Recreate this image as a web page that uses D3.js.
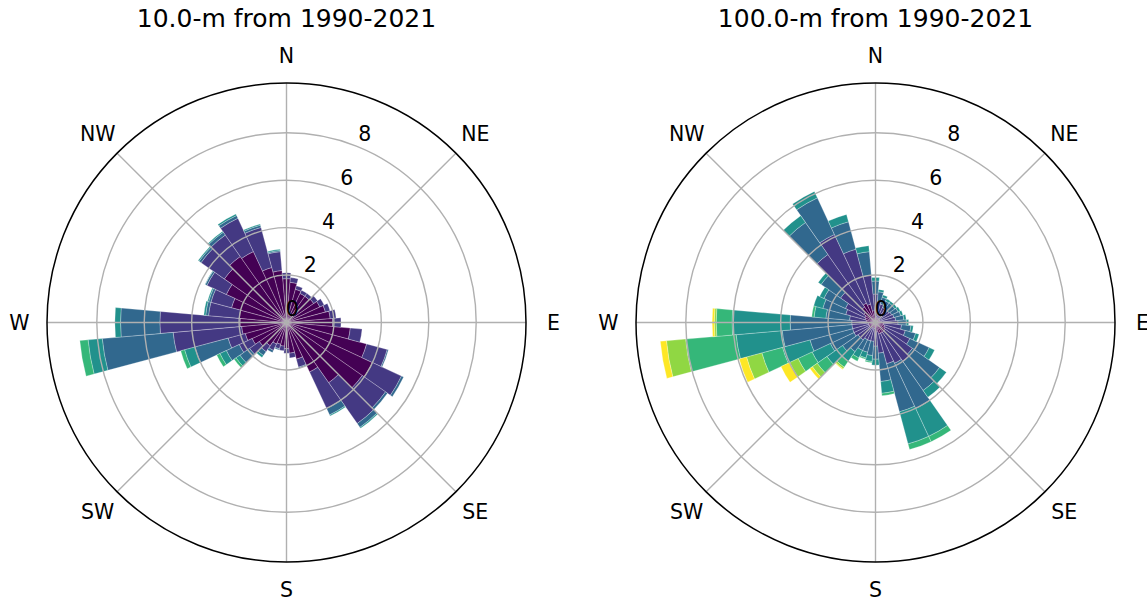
<!DOCTYPE html>
<html>
<head>
<meta charset="utf-8">
<script src="https://cdn.jsdelivr.net/npm/d3@7"></script>
<style>
  body { margin: 0; background: #ffffff; }
  text { font-family: "DejaVu Sans", "Liberation Sans", sans-serif; fill: #000; }
</style>
</head>
<body>
<svg id="chart" width="1147" height="602"></svg>
<script>
// Direction sectors (degrees clockwise from north), 10-degree bins
const directions = [0, 10, 20, 30, 40, 50, 60, 70, 80, 90,
                    100, 110, 120, 130, 140, 150, 160, 170, 180, 190,
                    200, 210, 220, 230, 240, 250, 260, 270, 280, 290,
                    300, 310, 320, 330, 340, 350];

// Wind speed classes and their viridis colours
const speedBins = ["0-2 m/s", "2-4 m/s", "4-6 m/s", "6-8 m/s", "8-10 m/s", "10-12 m/s", ">=12 m/s"];
const binColors = ["#440154", "#443983", "#31688e", "#21918c", "#35b779", "#90d743", "#fde725"];

const compassLabels = ["N", "NE", "E", "SE", "S", "SW", "W", "NW"];
const compassAngles = [0, 45, 90, 135, 180, 225, 270, 315];
const ringTicks = [0, 2, 4, 6, 8];

const titles = ["10.0-m from 1990-2021", "100.0-m from 1990-2021"];

// Frequency (%) of each speed class per direction, 10 m height
const m10_speed0 = [1.85, 1.7, 1.45, 1.35, 1.35, 1.4, 1.55, 1.7, 1.85, 1.95,
                    2.7, 3.5, 4.0, 3.9, 3.1, 2.3, 1.6, 1.3, 1.1, 1.0,
                    0.95, 1.0, 1.2, 1.4, 1.6, 1.8, 1.9, 1.96, 2.0, 2.4,
                    2.8, 3.2, 3.4, 3.3, 2.4, 2.2];
const m10_speed1 = [0.25, 0.2, 0.15, 0.15, 0.15, 0.2, 0.2, 0.2, 0.25, 0.35,
                    0.5, 0.9, 1.35, 1.2, 2.1, 1.7, 0.35, 0.2, 0.2, 0.2,
                    0.2, 0.3, 0.3, 0.5, 0.6, 0.75, 2.9, 3.38, 1.3, 0.9,
                    0.9, 1.2, 1.1, 1.55, 1.75, 0.8];
const m10_speed2 = [0, 0, 0, 0, 0, 0, 0, 0, 0, 0,
                    0, 0.05, 0.1, 0.1, 0.2, 0.3, 0.05, 0, 0, 0,
                    0.05, 0.1, 0.2, 0.5, 0.6, 1.45, 3.0, 1.66, 0.12, 0.1,
                    0.08, 0.1, 0.15, 0.13, 0.1, 0.05];
const m10_speed3 = [0, 0, 0, 0, 0, 0, 0, 0, 0, 0,
                    0, 0, 0, 0, 0.05, 0.05, 0, 0, 0, 0,
                    0, 0, 0.1, 0.2, 0.3, 0.45, 0.6, 0.24, 0.08, 0.05,
                    0.02, 0.05, 0.05, 0.07, 0.05, 0.05];
const m10_speed4 = [0, 0, 0, 0, 0, 0, 0, 0, 0, 0,
                    0, 0, 0, 0, 0, 0, 0, 0, 0, 0,
                    0, 0, 0, 0.1, 0.15, 0.17, 0.35, 0, 0, 0,
                    0, 0, 0, 0, 0, 0];
const m10_speed5 = [0, 0, 0, 0, 0, 0, 0, 0, 0, 0,
                    0, 0, 0, 0, 0, 0, 0, 0, 0, 0,
                    0, 0, 0, 0, 0, 0, 0, 0, 0, 0,
                    0, 0, 0, 0, 0, 0];
const m10_speed6 = [0, 0, 0, 0, 0, 0, 0, 0, 0, 0,
                    0, 0, 0, 0, 0, 0, 0, 0, 0, 0,
                    0, 0, 0, 0, 0, 0, 0, 0, 0, 0,
                    0, 0, 0, 0, 0, 0];

// Frequency (%) of each speed class per direction, 100 m height
const m100_speed0 = [0.3, 0.25, 0.2, 0.2, 0.2, 0.2, 0.2, 0.2, 0.25, 0.3,
                     0.35, 0.4, 0.45, 0.5, 0.5, 0.5, 0.5, 0.4, 0.3, 0.25,
                     0.25, 0.25, 0.3, 0.3, 0.3, 0.3, 0.3, 0.35, 0.4, 0.45,
                     0.5, 0.6, 0.8, 0.9, 0.8, 0.5];
const m100_speed1 = [0.9, 0.65, 0.6, 0.5, 0.5, 0.5, 0.55, 0.6, 0.6, 0.65,
                     0.75, 0.9, 1.15, 1.4, 1.5, 1.4, 1.3, 0.9, 0.7, 0.55,
                     0.55, 0.55, 0.6, 0.6, 0.7, 0.7, 0.7, 0.65, 0.7, 0.85,
                     0.9, 1.2, 2.7, 3.2, 2.4, 1.5];
const m100_speed2 = [0.55, 0.4, 0.3, 0.3, 0.3, 0.3, 0.3, 0.3, 0.35, 0.35,
                     0.4, 0.45, 0.9, 1.4, 1.5, 2.1, 2.1, 1.2, 0.55, 0.6,
                     0.5, 0.5, 0.6, 0.8, 1.1, 1.86, 2.95, 2.6, 1.0, 1.0,
                     1.0, 1.0, 1.65, 1.7, 1.2, 1.0];
const m100_speed3 = [0.15, 0.1, 0.1, 0.1, 0.1, 0.1, 0.1, 0.1, 0.1, 0.1,
                     0.1, 0.15, 0.25, 0.35, 0.35, 1.3, 1.4, 0.5, 0.25, 0.25,
                     0.25, 0.35, 0.5, 0.8, 0.85, 1.2, 1.95, 2.45, 0.5, 0.4,
                     0.2, 0.15, 0.35, 0.3, 0.32, 0.25];
const m100_speed4 = [0, 0, 0, 0, 0, 0, 0, 0, 0, 0,
                     0, 0, 0, 0, 0, 0.25, 0.25, 0.1, 0, 0.05,
                     0.05, 0.15, 0.3, 0.5, 0.65, 0.9, 2.14, 0.67, 0.1, 0,
                     0, 0, 0, 0, 0, 0];
const m100_speed5 = [0, 0, 0, 0, 0, 0, 0, 0, 0, 0,
                     0, 0, 0, 0, 0, 0, 0, 0, 0, 0,
                     0, 0, 0.08, 0.25, 0.4, 0.67, 0.81, 0.08, 0, 0,
                     0, 0, 0, 0, 0, 0];
const m100_speed6 = [0, 0, 0, 0, 0, 0, 0, 0, 0, 0,
                     0, 0, 0, 0, 0, 0, 0, 0, 0, 0,
                     0, 0, 0.04, 0.13, 0.4, 0.32, 0.26, 0.09, 0, 0,
                     0, 0, 0, 0, 0, 0];

const panels = [
  { title: titles[0], cx: 286.5, cy: 322.5,
    series: [m10_speed0, m10_speed1, m10_speed2, m10_speed3, m10_speed4, m10_speed5, m10_speed6] },
  { title: titles[1], cx: 875.5, cy: 322.5,
    series: [m100_speed0, m100_speed1, m100_speed2, m100_speed3, m100_speed4, m100_speed5, m100_speed6] }
];

const outerR = 239.5;
const rMax = 10.1;
const sectorWidth = 10;
const deg = Math.PI / 180;

const svg = d3.select("#chart");
svg.append("rect").attr("width", 1147).attr("height", 602).attr("fill", "#fff");

panels.forEach(p => {
  const r = d3.scaleLinear().domain([0, rMax]).range([0, outerR]);
  const g = svg.append("g").attr("transform", `translate(${p.cx},${p.cy})`);

  // stacked sector rows: one record per (direction, speed class)
  const stackData = directions.map((d, j) => {
    const row = { dir: d };
    speedBins.forEach((b, i) => { row[b] = p.series[i][j]; });
    return row;
  });
  const stacked = d3.stack().keys(speedBins)(stackData);

  const arc = d3.arc();
  stacked.forEach((layer, i) => {
    g.append("g")
      .selectAll("path")
      .data(layer.filter(s => s[1] - s[0] > 0))
      .join("path")
      .attr("d", s => arc({
        innerRadius: r(s[0]),
        outerRadius: r(s[1]),
        startAngle: (s.data.dir - sectorWidth / 2) * deg,
        endAngle: (s.data.dir + sectorWidth / 2) * deg
      }))
      .attr("fill", binColors[i])
      .attr("stroke", "#ffffff")
      .attr("stroke-width", 0.6)
      .attr("stroke-opacity", 0.45);
  });

  // grid: rings and spokes drawn over the bars
  const grid = g.append("g").attr("fill", "none").attr("stroke", "#b0b0b0").attr("stroke-width", 1.4);
  grid.selectAll("circle")
    .data(ringTicks.filter(t => t > 0))
    .join("circle")
    .attr("r", t => r(t));
  grid.selectAll("line")
    .data(compassAngles)
    .join("line")
    .attr("x1", 0).attr("y1", 0)
    .attr("x2", a => outerR * Math.sin(a * deg))
    .attr("y2", a => -outerR * Math.cos(a * deg));

  // outer frame
  g.append("circle").attr("r", outerR).attr("fill", "none")
    .attr("stroke", "#000").attr("stroke-width", 1.5);

  // radial tick labels along 22.5 degrees
  const labAng = 22.5 * deg;
  g.selectAll("text.rtick")
    .data(ringTicks)
    .join("text")
    .attr("class", "rtick")
    .attr("x", t => (r(t) + 15) * Math.sin(labAng))
    .attr("y", t => -(r(t) + 15) * Math.cos(labAng) + 7.5)
    .attr("text-anchor", "middle")
    .attr("font-size", 20.5)
    .text(t => t);

  // compass labels
  const labR = outerR + 27.5;
  g.selectAll("text.compass")
    .data(compassAngles)
    .join("text")
    .attr("class", "compass")
    .attr("x", a => labR * Math.sin(a * deg))
    .attr("y", a => -labR * Math.cos(a * deg) + 7.3)
    .attr("text-anchor", "middle")
    .attr("font-size", 20.5)
    .text((a, i) => compassLabels[i]);

  // title
  svg.append("text")
    .attr("x", p.cx)
    .attr("y", 27)
    .attr("text-anchor", "middle")
    .attr("font-size", 25)
    .text(p.title);
});
</script>
</body>
</html>
